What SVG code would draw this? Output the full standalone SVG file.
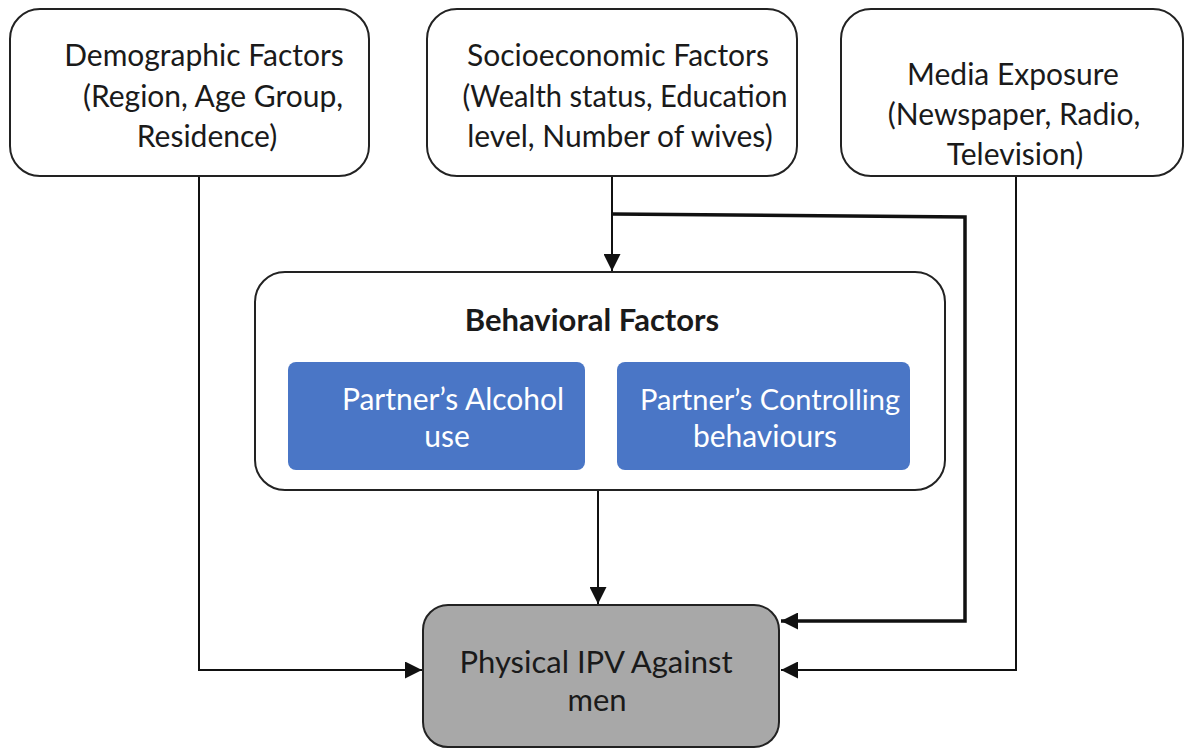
<svg xmlns="http://www.w3.org/2000/svg" width="1192" height="749" viewBox="0 0 1192 749">
<defs>
<style>
.box{fill:#fff;stroke:#222;stroke-width:2}
.blue{fill:#4a76c6;stroke:none}
.gray{fill:#a8a8a8;stroke:#222;stroke-width:2}
.t{font-family:Lato,"Open Sans","DejaVu Sans",sans-serif;font-size:30px;fill:#1a1a1a;text-anchor:middle}
.b{font-weight:bold;font-size:31px}
.w{fill:#fff}
.c{fill:none;stroke:#111;stroke-width:2}
.ck{fill:none;stroke:#111;stroke-width:3.5}
</style>
<marker id="ahb" viewBox="0 0 10 10" refX="10" refY="5" markerWidth="17" markerHeight="17" markerUnits="userSpaceOnUse" orient="auto">
<path d="M0,0 L10,5 L0,10 z" fill="#111"/>
</marker>
</defs>
<rect width="1192" height="749" fill="#fff"/>
<g id="connectors">
<path class="c" d="M199,176 V670 H422" marker-end="url(#ahb)"/>
<path class="c" d="M1016,176 V670 H781" marker-end="url(#ahb)"/>
<path class="c" d="M612,176 V271" marker-end="url(#ahb)"/>
<path class="c" d="M598,490 V604" marker-end="url(#ahb)"/>
<path class="ck" d="M612,214 L965,217 V621 H781" marker-end="url(#ahb)"/>
</g>
<g id="demographic">
<rect class="box" x="10" y="9" width="359" height="167" rx="30"/>
<text class="t" x="204" y="66">Demographic Factors</text>
<text class="t" x="213" y="107">(Region, Age Group,</text>
<text class="t" x="207" y="147">Residence)</text>
</g>
<g id="socioeconomic">
<rect class="box" x="427" y="9" width="370" height="167" rx="30"/>
<text class="t" x="618" y="66">Socioeconomic Factors</text>
<text class="t" x="625" y="107" textLength="325" lengthAdjust="spacingAndGlyphs">(Wealth status, Education</text>
<text class="t" x="620" y="147">level, Number of wives)</text>
</g>
<g id="media">
<rect class="box" x="841" y="9" width="342" height="167" rx="30"/>
<text class="t" x="1013" y="85">Media Exposure</text>
<text class="t" x="1014" y="125">(Newspaper, Radio,</text>
<text class="t" x="1015" y="165">Television)</text>
</g>
<g id="behavioral">
<rect class="box" x="255" y="272" width="690" height="218" rx="30"/>
<text class="t b" x="592" y="331">Behavioral Factors</text>
<g id="alcohol">
<rect class="blue" x="288" y="362" width="297" height="108" rx="8"/>
<text class="t w" x="453" y="410">Partner’s Alcohol</text>
<text class="t w" x="447" y="447">use</text>
</g>
<g id="controlling">
<rect class="blue" x="617" y="362" width="293" height="108" rx="8"/>
<text class="t w" x="770" y="410" style="font-size:29px">Partner’s Controlling</text>
<text class="t w" x="765" y="447">behaviours</text>
</g>
</g>
<g id="physical">
<rect class="gray" x="423" y="605" width="356" height="142" rx="25"/>
<text class="t" x="596" y="673" style="font-size:31px">Physical IPV Against</text>
<text class="t" x="597" y="711" style="font-size:31px">men</text>
</g>
</svg>
